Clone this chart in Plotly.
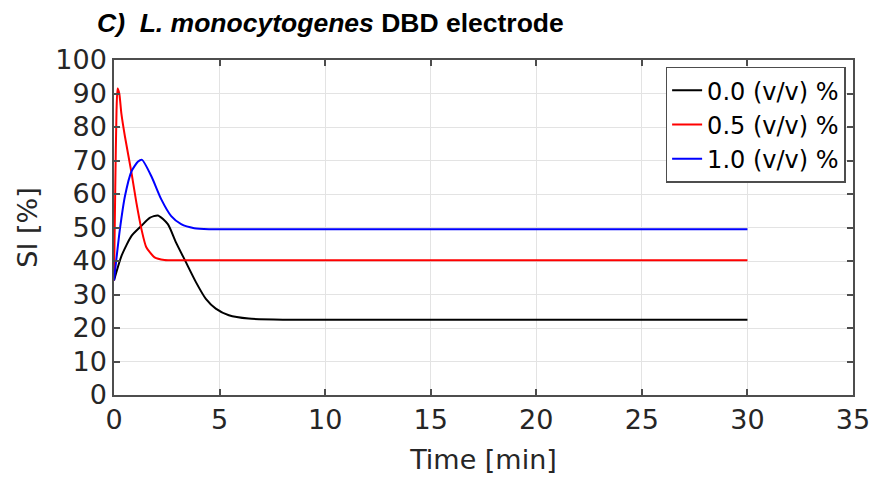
import plotly.graph_objects as go

# ---- data ----
t_00 = [0, 0.36, 0.83, 1.3, 1.69, 2.08, 2.55, 2.94, 3.37, 3.88, 4.35, 4.82, 5.44, 6.38, 8, 12, 30]
si_00 = [34.2, 41.6, 47.5, 50.5, 52.9, 53.6, 51.0, 45.5, 40.1, 33.7, 28.7, 25.8, 23.8, 22.8, 22.5, 22.5, 22.5]

t_05 = [0, 0.06, 0.12, 0.17, 0.25, 0.35, 0.52, 0.83, 1.06, 1.3, 1.53, 1.92, 2.39, 3.0, 4, 8, 30]
si_05 = [34.2, 62, 85, 91.5, 90, 84, 77.1, 66.3, 57.4, 49.5, 44.1, 41.1, 40.3, 40.2, 40.2, 40.2, 40.2]

t_10 = [0, 0.28, 0.52, 0.83, 1.14, 1.33, 1.77, 2.24, 2.71, 3.18, 3.8, 4.5, 6, 10, 30]
si_10 = [34.2, 49.5, 59.4, 66.8, 69.7, 70.2, 65.3, 58.4, 53.4, 51.0, 49.8, 49.5, 49.5, 49.5, 49.5]

names = ["0.0 (v/v) %", "0.5 (v/v) %", "1.0 (v/v) %"]
colors = ["#000000", "#ff0000", "#0000ff"]
x_ticks = [0, 5, 10, 15, 20, 25, 30, 35]
y_ticks = [0, 10, 20, 30, 40, 50, 60, 70, 80, 90, 100]

FONT = "DejaVu Sans, Liberation Sans, Arial, sans-serif"

fig = go.Figure()
for t, v, n, c in zip([t_00, t_05, t_10], [si_00, si_05, si_10], names, colors):
    fig.add_trace(go.Scatter(x=t, y=v, mode="lines", name=n,
                             line=dict(color=c, width=2, shape="spline", smoothing=0.6)))

axis_common = dict(
    showgrid=True, gridcolor="#e3e3e3", gridwidth=1,
    showline=True, linecolor="#4d4d4d", linewidth=1.5, mirror="ticks",
    ticks="inside", ticklen=6, tickcolor="#4d4d4d", tickwidth=1.5,
    zeroline=False,
    tickfont=dict(family=FONT, size=27, color="#262626"),
)

fig.update_layout(
    width=882, height=482,
    margin=dict(l=114, r=22, t=60, b=85),
    paper_bgcolor="white", plot_bgcolor="white",
    title=dict(
        text="<b><i>C)&nbsp;&nbsp;L. monocytogenes</i> DBD electrode</b>",
        x=97 / 882, xanchor="left", xref="container",
        y=1 - 23 / 482, yanchor="middle", yref="container",
        font=dict(family="Liberation Sans, Arial, sans-serif", size=26.5, color="#000000"),
    ),
    xaxis=dict(range=[0, 35], tickvals=x_ticks, ticktext=[str(v) for v in x_ticks],
               title=dict(text="Time [min]", standoff=16,
                          font=dict(family=FONT, size=27, color="#262626")),
               **axis_common),
    yaxis=dict(range=[0, 100], tickvals=y_ticks, ticktext=[str(v) for v in y_ticks],
               title=dict(text="SI [%]", standoff=10,
                          font=dict(family=FONT, size=27, color="#262626")),
               **axis_common),
    legend=dict(
        x=0.99, xanchor="right", y=0.98, yanchor="top",
        bgcolor="white", bordercolor="#4d4d4d", borderwidth=1.5,
        font=dict(family=FONT, size=24, color="#000000"),
        tracegroupgap=0, itemwidth=30,
    ),
    showlegend=True,
)

fig.write_html("out.html")
